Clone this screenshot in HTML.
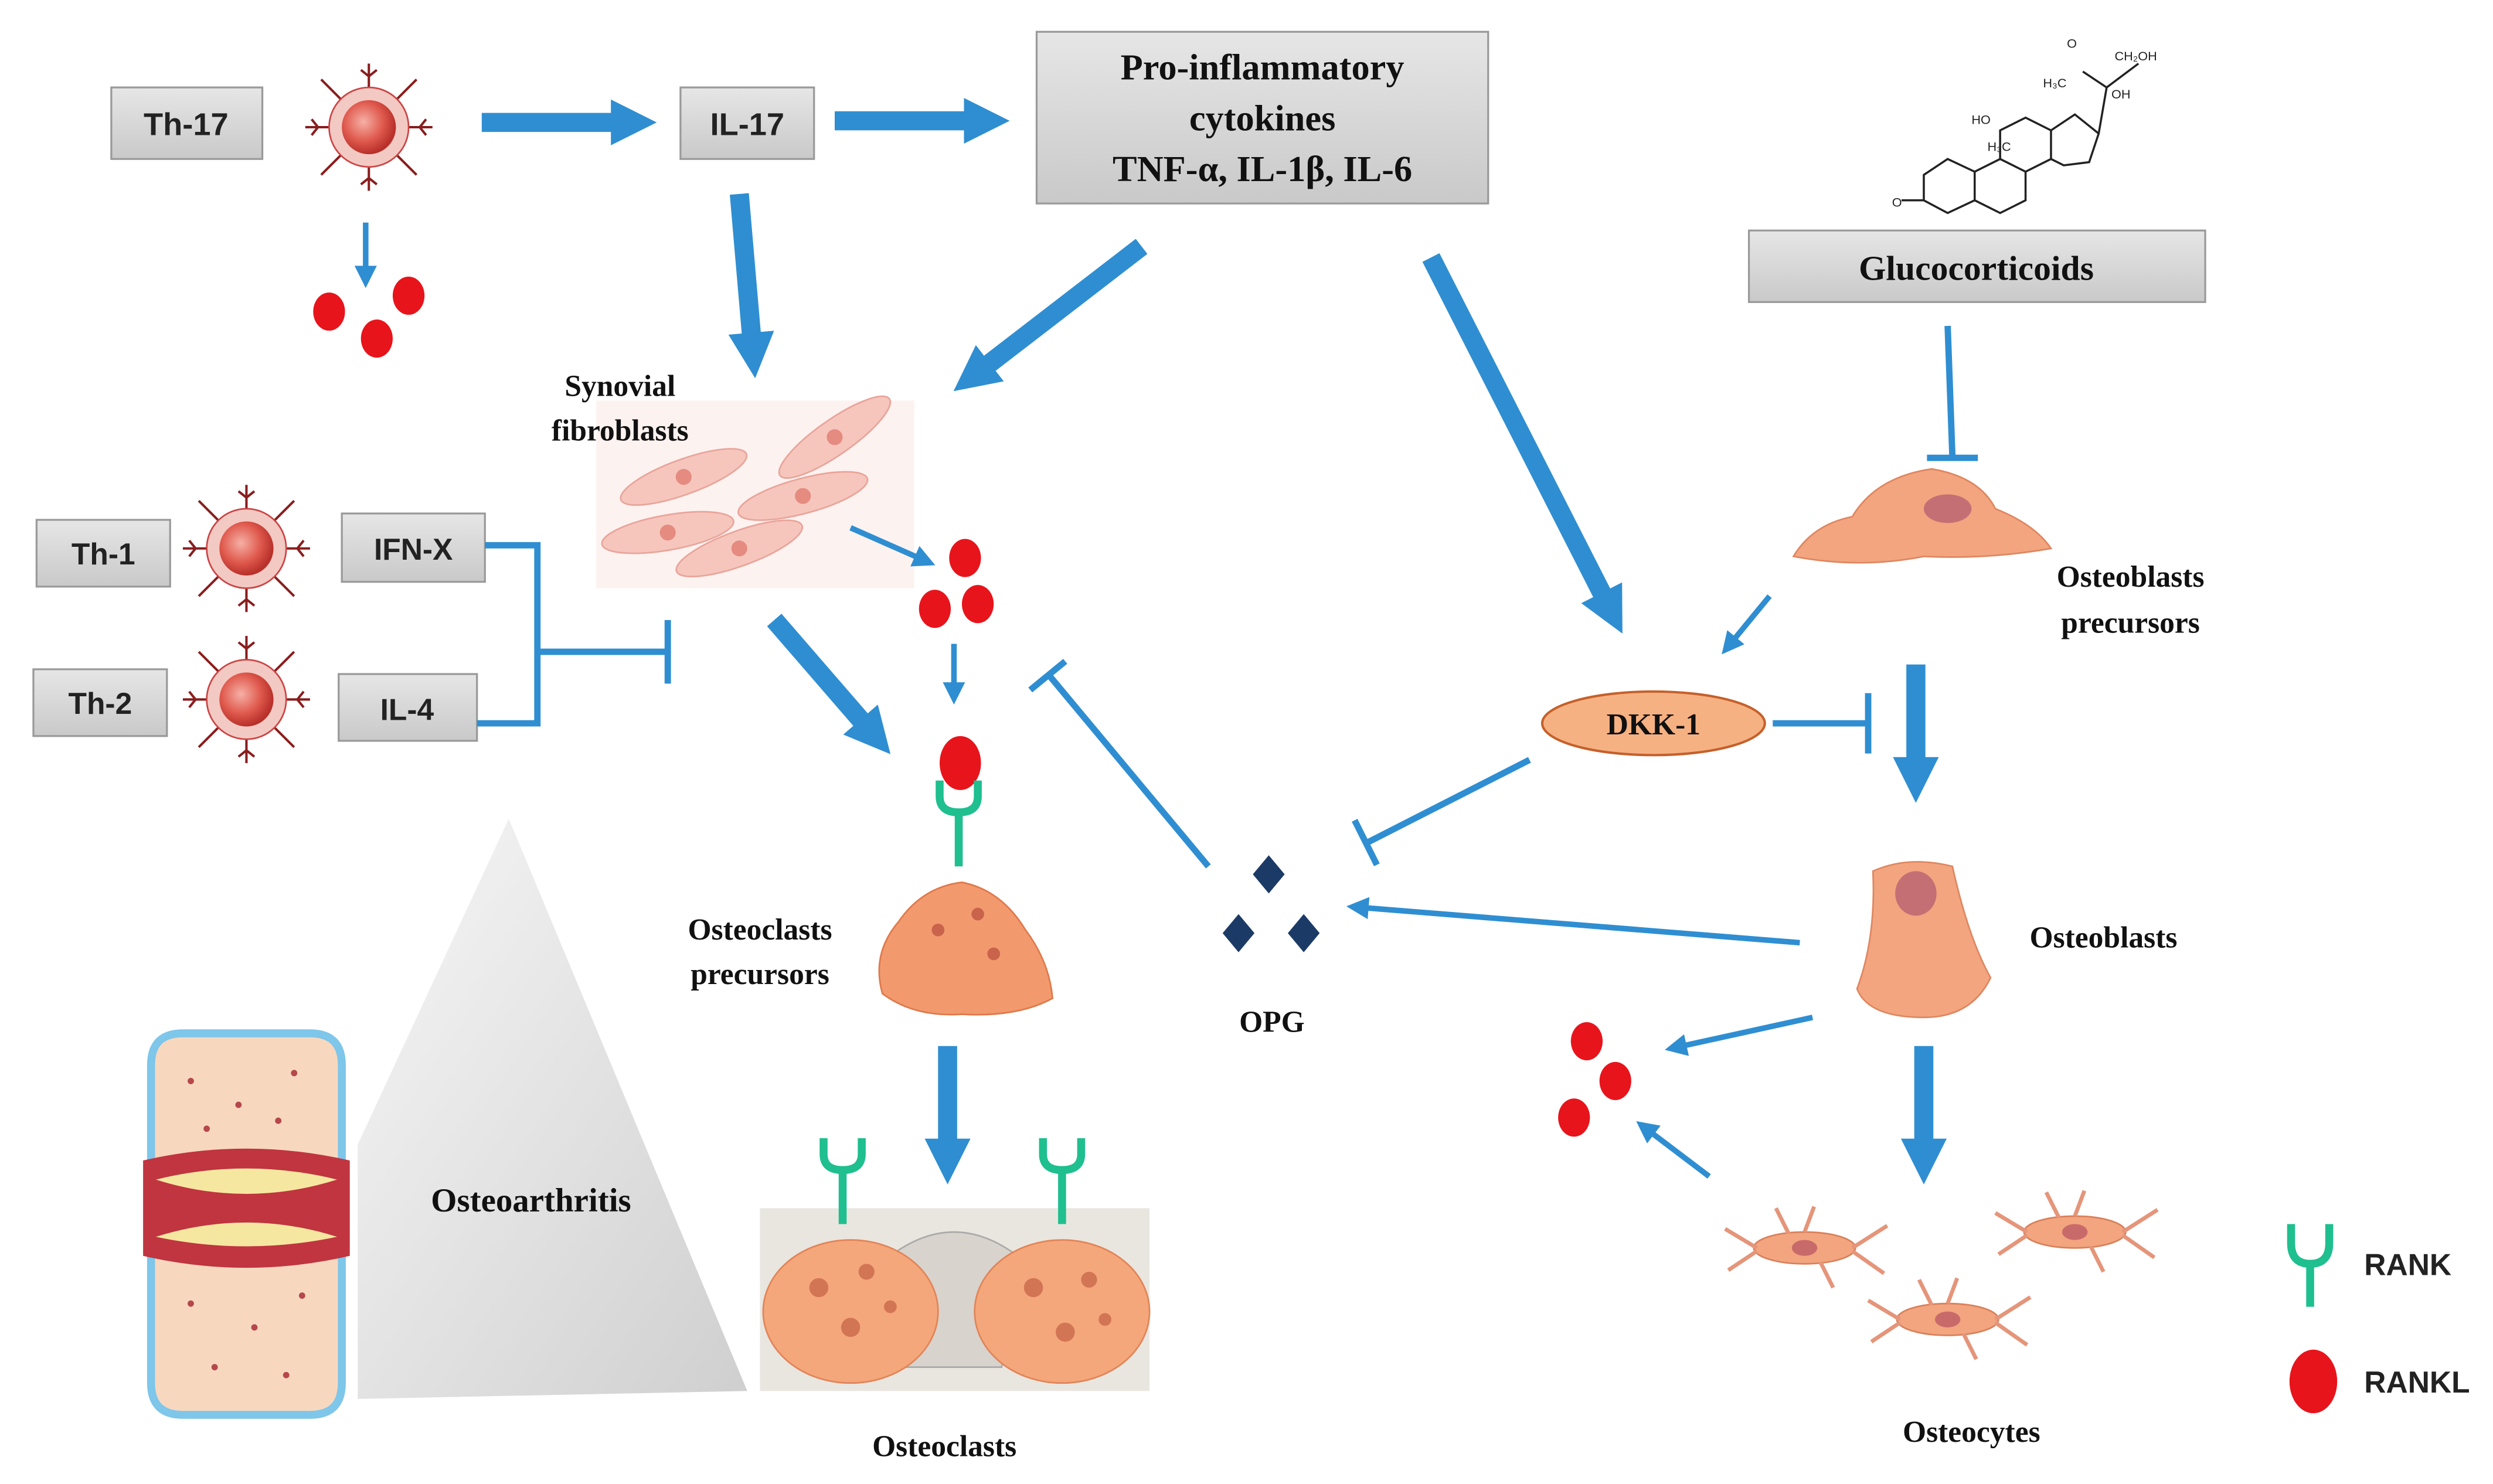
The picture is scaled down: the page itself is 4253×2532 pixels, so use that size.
<!DOCTYPE html>
<html><head><meta charset="utf-8"><style>
html,body{margin:0;padding:0;background:#fff;}
svg{display:block;}
.bx{fill:url(#gbox);stroke:#9a9a9a;stroke-width:1.2;}
.ts{font-family:"Liberation Sans",sans-serif;font-weight:bold;fill:#222;}
.tf{font-family:"Liberation Serif",serif;font-weight:bold;fill:#111;}
.thick{stroke:#2f8ed1;stroke-width:12;fill:none;marker-end:url(#hb);}
.thin{stroke:#2f8ed1;stroke-width:3.5;fill:none;marker-end:url(#hs);}
.inh{stroke:#2f8ed1;stroke-width:4;fill:none;}
.rd{fill:#e8141b;}
.rank{stroke:#1fbf8f;stroke-width:5;fill:none;}
</style></head><body>
<svg width="4253" height="2532" viewBox="0 0 1568 933.5" preserveAspectRatio="none" xmlns="http://www.w3.org/2000/svg">
<defs>
<linearGradient id="gbox" x1="0" y1="0" x2="0" y2="1"><stop offset="0" stop-color="#e6e6e6"/><stop offset="1" stop-color="#c9c9c9"/></linearGradient>
<radialGradient id="gcell" cx="0.4" cy="0.4" r="0.6"><stop offset="0" stop-color="#f6b0a6"/><stop offset="0.6" stop-color="#e05a4e"/><stop offset="1" stop-color="#b8302a"/></radialGradient>
<linearGradient id="gcone" x1="0" y1="0" x2="1" y2="1"><stop offset="0" stop-color="#f7f7f7"/><stop offset="1" stop-color="#cfcfcf"/></linearGradient>
<marker id="hb" viewBox="0 0 10 10" refX="2" refY="5" markerWidth="2.4" markerHeight="2.6" orient="auto"><path d="M0,0 L10,5 L0,10 z" fill="#2f8ed1"/></marker>
<marker id="hs" viewBox="0 0 10 10" refX="2" refY="5" markerWidth="4" markerHeight="4" orient="auto"><path d="M0,0 L10,5 L0,10 z" fill="#2f8ed1"/></marker>
<g id="cell">
<g stroke="#8a1d1d" stroke-width="1.5" fill="none">
<path d="M0,-24 L0,-40 M-5,-36 L0,-32 L5,-36"/><path d="M0,24 L0,40 M-5,36 L0,32 L5,36"/>
<path d="M-24,0 L-40,0 M-36,-5 L-32,0 L-36,5"/><path d="M24,0 L40,0 M36,-5 L32,0 L36,5"/>
<path d="M-17,-17 L-30,-30 M17,-17 L30,-30 M-17,17 L-30,30 M17,17 L30,30"/>
</g>
<circle r="25" fill="#f3c9c3" stroke="#c44" stroke-width="1"/>
<circle r="17" fill="url(#gcell)"/>
</g>
<g id="Y"><path d="M-12,-14 L-12,-4 Q-12,6 0,6 Q12,6 12,-4 L12,-14 M0,6 L0,40" class="rank"/></g>
<g id="fib"><ellipse rx="42" ry="11" fill="#f6c6bd" stroke="#e9a49a"/><circle r="5" fill="#e58b80"/></g>
<g id="ocyte"><ellipse rx="32" ry="10" fill="#f2a57f" stroke="#d9805a"/><ellipse rx="8" ry="5" fill="#c96a6a"/>
<path d="M-30,0 L-50,-12 M-30,2 L-48,14 M30,0 L52,-14 M30,2 L50,16 M-10,-9 L-18,-25 M10,9 L18,25 M0,-10 L6,-26" stroke="#e5957a" stroke-width="2.5" fill="none"/></g>
</defs>

<rect class="bx" x="70" y="55" width="95" height="45"/><text class="ts" x="117" y="85" font-size="20" text-anchor="middle">Th-17</text>
<use href="#cell" x="232" y="80"/>
<line class="thick" x1="303" y1="77" x2="390" y2="77"/>
<rect class="bx" x="428" y="55" width="84" height="45"/><text class="ts" x="470" y="85" font-size="20" text-anchor="middle">IL-17</text>
<line class="thick" x1="525" y1="76" x2="612" y2="76"/>
<rect class="bx" x="652" y="20" width="284" height="108"/>
<text class="tf" font-size="23" text-anchor="middle"><tspan x="794" y="50">Pro-inflammatory</tspan><tspan x="794" y="82">cytokines</tspan><tspan x="794" y="114">TNF-α, IL-1β, IL-6</tspan></text>

<line class="thin" x1="230" y1="140" x2="230" y2="170"/>
<ellipse class="rd" cx="207" cy="196" rx="10" ry="12"/><ellipse class="rd" cx="257" cy="186" rx="10" ry="12"/><ellipse class="rd" cx="237" cy="213" rx="10" ry="12"/>

<g stroke="#222" stroke-width="1.3" fill="none">
<path d="M1210,110 L1225,100 L1242,108 L1242,126 L1225,134 L1210,126 Z"/>
<path d="M1242,108 L1258,100 L1274,108 L1274,126 L1258,134 L1242,126"/>
<path d="M1258,100 L1258,82 L1274,74 L1290,82 L1290,100 L1274,108"/>
<path d="M1290,82 L1305,72 L1320,84 L1314,102 L1298,104 L1290,100"/>
<path d="M1196,126 L1210,126"/><path d="M1320,84 L1325,55 L1310,45"/><path d="M1325,55 L1345,40"/>
</g>
<g font-family="Liberation Sans,sans-serif" font-size="8" fill="#222"><text x="1190" y="130">O</text><text x="1240" y="78">HO</text><text x="1300" y="30">O</text><text x="1330" y="38">CH₂OH</text><text x="1328" y="62">OH</text><text x="1250" y="95">H₃C</text><text x="1285" y="55">H₃C</text></g>
<rect class="bx" x="1100" y="145" width="287" height="45"/><text class="tf" x="1243" y="176" font-size="22" text-anchor="middle">Glucocorticoids</text>

<line class="thick" x1="465" y1="122" x2="473" y2="215"/>
<line class="thick" x1="718" y1="155" x2="618" y2="232"/>
<line class="thick" x1="900" y1="162" x2="1010" y2="378"/>

<rect x="375" y="252" width="200" height="118" fill="#fbecea" opacity="0.7"/>
<use href="#fib" transform="translate(430,300) rotate(-20)"/><use href="#fib" transform="translate(525,275) rotate(-35)"/>
<use href="#fib" transform="translate(505,312) rotate(-15)"/><use href="#fib" transform="translate(465,345) rotate(-20)"/><use href="#fib" transform="translate(420,335) rotate(-10)"/>
<text class="tf" font-size="19" text-anchor="middle"><tspan x="390" y="249">Synovial</tspan><tspan x="390" y="277">fibroblasts</tspan></text>

<rect class="bx" x="23" y="327" width="84" height="42"/><text class="ts" x="65" y="355" font-size="19" text-anchor="middle">Th-1</text>
<use href="#cell" x="155" y="345"/>
<rect class="bx" x="215" y="323" width="90" height="43"/><text class="ts" x="260" y="352" font-size="19" text-anchor="middle">IFN-X</text>
<rect class="bx" x="21" y="421" width="84" height="42"/><text class="ts" x="63" y="449" font-size="19" text-anchor="middle">Th-2</text>
<use href="#cell" x="155" y="440"/>
<rect class="bx" x="213" y="424" width="87" height="42"/><text class="ts" x="256" y="453" font-size="19" text-anchor="middle">IL-4</text>
<path class="inh" d="M305,343 L338,343 L338,455 L300,455 M338,410 L420,410 M420,390 L420,430"/>

<line class="thin" x1="535" y1="332" x2="578" y2="351"/>
<ellipse class="rd" cx="607" cy="351" rx="10" ry="12"/><ellipse class="rd" cx="588" cy="383" rx="10" ry="12"/><ellipse class="rd" cx="615" cy="380" rx="10" ry="12"/>
<line class="thin" x1="600" y1="405" x2="600" y2="432"/>
<line class="thick" x1="487" y1="390" x2="545" y2="457"/>
<ellipse class="rd" cx="604" cy="480" rx="13" ry="17"/>
<use href="#Y" x="603" y="505"/>
<path class="inh" d="M760,545 L660,425 M648,434 L670,416"/>

<path d="M555,625 Q548,600 565,580 Q580,558 605,555 Q630,560 645,585 Q660,605 662,628 Q640,640 605,638 Q575,640 555,625 Z" fill="#f29a6e" stroke="#e0784a"/>
<circle cx="590" cy="585" r="4" fill="#c9634b"/><circle cx="615" cy="575" r="4" fill="#c9634b"/><circle cx="625" cy="600" r="4" fill="#c9634b"/>
<text class="tf" font-size="19" text-anchor="middle"><tspan x="478" y="591">Osteoclasts</tspan><tspan x="478" y="619">precursors</tspan></text>
<line class="thick" x1="596" y1="658" x2="596" y2="722"/>

<rect x="478" y="760" width="245" height="115" fill="#e9e6e0"/>
<path d="M560,790 Q600,760 640,790 L630,860 L570,860 Z" fill="#d8d3cc" stroke="#aaa"/>
<ellipse cx="535" cy="825" rx="55" ry="45" fill="#f4a77a" stroke="#e28458"/>
<ellipse cx="668" cy="825" rx="55" ry="45" fill="#f4a77a" stroke="#e28458"/>
<g fill="#d27555"><circle cx="515" cy="810" r="6"/><circle cx="545" cy="800" r="5"/><circle cx="535" cy="835" r="6"/><circle cx="560" cy="822" r="4"/><circle cx="650" cy="810" r="6"/><circle cx="685" cy="805" r="5"/><circle cx="670" cy="838" r="6"/><circle cx="695" cy="830" r="4"/></g>
<use href="#Y" x="530" y="730"/><use href="#Y" x="668" y="730"/>
<text class="tf" x="594" y="916" font-size="19" text-anchor="middle">Osteoclasts</text>

<g fill="#1b3a66"><path d="M798,538 L808,550 L798,562 L788,550 Z"/><path d="M779,575 L789,587 L779,599 L769,587 Z"/><path d="M820,575 L830,587 L820,599 L810,587 Z"/></g>
<text class="tf" x="800" y="649" font-size="19" text-anchor="middle">OPG</text>

<ellipse cx="1040" cy="455" rx="70" ry="20" fill="#f6b183" stroke="#c5602a" stroke-width="1.5"/>
<text class="tf" x="1040" y="462" font-size="19" text-anchor="middle">DKK-1</text>
<path class="inh" d="M962,478 L860,530 M852,516 L866,544"/>
<path class="inh" d="M1115,455 L1175,455 M1175,436 L1175,474" stroke-width="5"/>
<line class="thin" x1="1113" y1="375" x2="1090" y2="403"/>
<path class="inh" d="M1225,205 L1228,288 M1212,288 L1244,288"/>

<path d="M1128,350 Q1140,330 1165,325 Q1180,300 1215,295 Q1245,300 1255,320 Q1280,330 1290,345 Q1250,352 1210,350 Q1170,358 1128,350 Z" fill="#f2a57f" stroke="#df8660"/>
<ellipse cx="1225" cy="320" rx="15" ry="9" fill="#c46f74"/>
<text class="tf" font-size="19" text-anchor="middle"><tspan x="1340" y="369">Osteoblasts</tspan><tspan x="1340" y="398">precursors</tspan></text>
<line class="thick" x1="1205" y1="418" x2="1205" y2="482"/>

<path d="M1178,548 Q1200,538 1228,545 Q1238,590 1252,615 Q1240,640 1210,640 Q1175,640 1168,622 Q1180,590 1178,548 Z" fill="#f2a57f" stroke="#df8660"/>
<ellipse cx="1205" cy="562" rx="13" ry="14" fill="#c46f74"/>
<text class="tf" x="1323" y="596" font-size="19" text-anchor="middle">Osteoblasts</text>
<line class="thin" x1="1132" y1="593" x2="858" y2="571"/>
<line class="thin" x1="1140" y1="640" x2="1058" y2="658"/>
<ellipse class="rd" cx="998" cy="655" rx="10" ry="12"/><ellipse class="rd" cx="1016" cy="680" rx="10" ry="12"/><ellipse class="rd" cx="990" cy="703" rx="10" ry="12"/>
<line class="thin" x1="1075" y1="740" x2="1038" y2="712"/>
<line class="thick" x1="1210" y1="658" x2="1210" y2="722"/>

<use href="#ocyte" x="1135" y="785"/><use href="#ocyte" x="1225" y="830"/><use href="#ocyte" x="1305" y="775"/>
<text class="tf" x="1240" y="907" font-size="19" text-anchor="middle">Osteocytes</text>

<path d="M1441,770 L1441,782 Q1441,795 1453,795 Q1465,795 1465,782 L1465,770 M1453,795 L1453,822" class="rank" stroke-width="6"/>
<text class="ts" x="1487" y="802" font-size="19">RANK</text>
<ellipse class="rd" cx="1455" cy="869" rx="15" ry="20"/>
<text class="ts" x="1487" y="876" font-size="19">RANKL</text>

<polygon points="320,515 225,720 225,880 470,875" fill="url(#gcone)"/>
<text class="tf" x="334" y="762" font-size="21" text-anchor="middle">Osteoarthritis</text>
<g>
<path d="M95,740 L95,670 Q95,650 115,650 L195,650 Q215,650 215,670 L215,740 Q155,725 95,740 Z" fill="#f7d8bf" stroke="#7ec6ea" stroke-width="5"/>
<path d="M95,780 Q155,795 215,780 L215,870 Q215,890 195,890 L115,890 Q95,890 95,870 Z" fill="#f7d8bf" stroke="#7ec6ea" stroke-width="5"/>
<path d="M90,730 Q155,715 220,730 L220,790 Q155,805 90,790 Z" fill="#c0353f"/>
<path d="M98,742 Q155,728 212,742 Q155,760 98,742 Z" fill="#f6e7a0"/>
<path d="M98,778 Q155,760 212,778 Q155,790 98,778 Z" fill="#f6e7a0"/>
<g fill="#b5484c"><circle cx="120" cy="680" r="2"/><circle cx="150" cy="695" r="2"/><circle cx="185" cy="675" r="2"/><circle cx="130" cy="710" r="2"/><circle cx="175" cy="705" r="2"/><circle cx="120" cy="820" r="2"/><circle cx="160" cy="835" r="2"/><circle cx="190" cy="815" r="2"/><circle cx="135" cy="860" r="2"/><circle cx="180" cy="865" r="2"/></g>
</g>
</svg>
</body></html>
